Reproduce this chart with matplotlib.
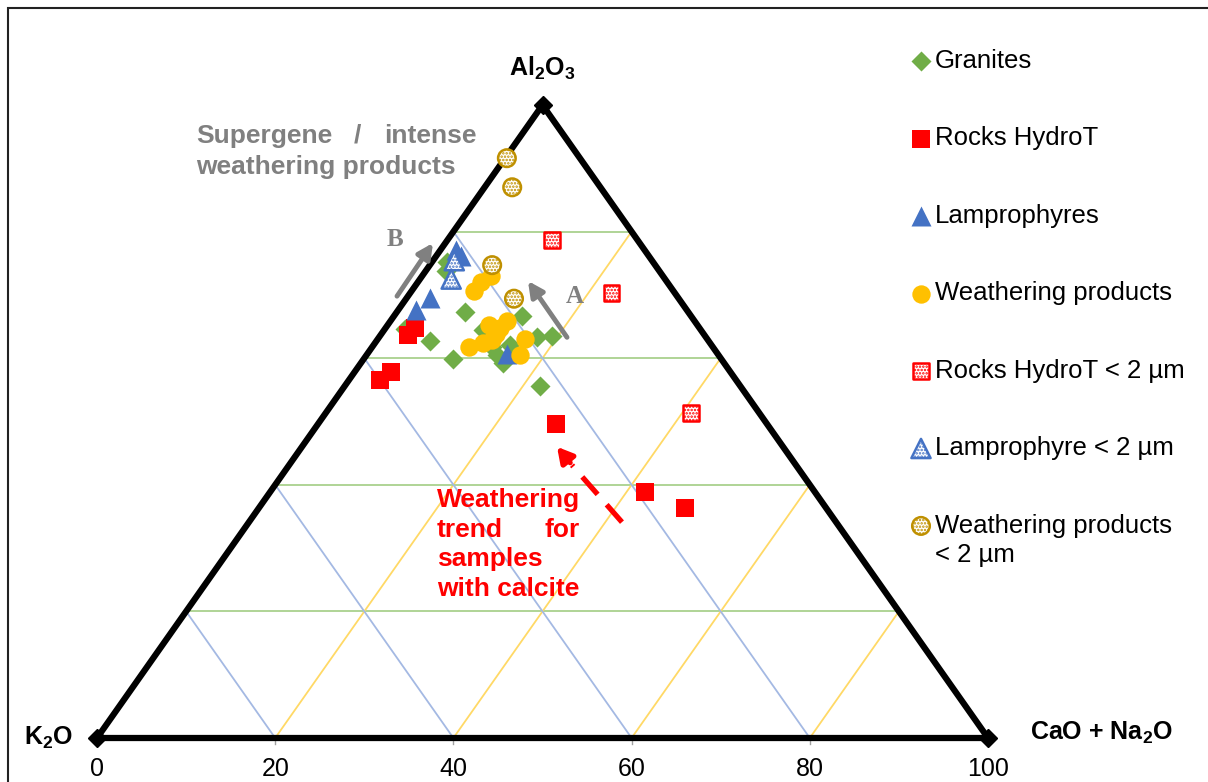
import matplotlib
matplotlib.use("Agg")
import matplotlib.pyplot as plt
from matplotlib.patches import Rectangle

plt.rcParams['font.family'] = ['Liberation Sans', 'DejaVu Sans']
plt.rcParams['mathtext.fontset'] = 'custom'
plt.rcParams['mathtext.rm'] = 'Liberation Sans'
plt.rcParams['mathtext.bf'] = 'Liberation Sans:bold'
plt.rcParams['mathtext.default'] = 'bf'
plt.rcParams['hatch.linewidth'] = 1.2

# compositions (%): Al2O3 and CaO+Na2O, K2O is the remainder
granites_al = [75.2, 73.8, 67.3, 64.6, 62.7, 59.9, 64.5, 61.8, 60.5, 59.2, 66.7, 63.3, 63.5, 55.6, 62.1, 61.0]
granites_ca = [1.7, 2.3, 7.6, 2.3, 6.0, 10.0, 11.1, 13.4, 14.6, 16.0, 14.3, 17.7, 19.3, 21.9, 15.3, 16.3]

hydrot_al = [64.8, 63.7, 57.8, 56.6, 49.6, 38.9, 36.3]
hydrot_ca = [3.3, 3.0, 4.1, 3.5, 26.7, 42.1, 47.8]

lamp_al = [77.1, 76.1, 69.5, 67.6, 60.7]
lamp_ca = [1.7, 2.8, 2.6, 2.0, 15.7]

wp_al = [70.6, 72.0, 73.0, 65.2, 65.9, 63.8, 64.8, 62.4, 61.8, 63.0, 60.5, 62.9]
wp_ca = [7.0, 7.1, 7.7, 11.4, 13.1, 12.9, 12.8, 12.1, 10.9, 16.5, 17.2, 12.9]

hydrot2_al = [78.7, 70.3, 51.3]
hydrot2_ca = [11.7, 22.6, 41.0]

lamp2_al = [75.4, 72.5]
lamp2_ca = [2.4, 3.5]

wp2_al = [91.6, 87.0, 74.7, 69.4]
wp2_ca = [0.2, 3.1, 7.0, 12.1]

ticks = [0, 20, 40, 60, 80, 100]
grid_vals = [20, 40, 60, 80]


def tern(al, ca):
    # ternary -> cartesian, K2O at (0,0), CaO+Na2O at (100,0), Al2O3 at (50,100)
    x = [c + a / 2 for a, c in zip(al, ca)]
    return x, list(al)


fig = plt.figure(figsize=(12.08, 7.82), dpi=100)
ax = fig.add_axes([97 / 1208, 44 / 782, 891 / 1208, 633 / 782])
ax.set_xlim(0, 100)
ax.set_ylim(0, 100)
ax.axis('off')

# grid lines
for v in grid_vals:
    ax.plot([v / 2, 100 - v / 2], [v, v], color='#a9d18e', lw=1.3, zorder=1)
    ax.plot([v, v / 2], [0, v], color='#a4b9e3', lw=1.3, zorder=1)
    ax.plot([v, 50 + v / 2], [0, 100 - v], color='#ffd966', lw=1.3, zorder=1)
    ax.plot([v, v], [0, -0.9], color='#a0a0a0', lw=1, clip_on=False)

# triangle
ax.plot([0, 100, 50, 0], [0, 0, 100, 0], color='black', lw=4.5,
        solid_joinstyle='miter', clip_on=False, zorder=2)
ax.plot([0, 100, 50], [0, 0, 100], 'D', color='black', ms=9, clip_on=False, zorder=2)

for t in ticks:
    ax.text(t, -4.9, str(t), ha='center', va='center', fontsize=18)

ax.text(-2.7, 0, 'K$_2$O', ha='right', va='center', fontsize=18, fontweight='bold')
ax.text(50, 105.8, 'Al$_2$O$_3$', ha='center', va='center', fontsize=18, fontweight='bold')
ax.text(104.7, 0.8, 'CaO + Na$_2$O', ha='left', va='center', fontsize=18, fontweight='bold')

# data
x, y = tern(granites_al, granites_ca)
h1 = ax.scatter(x, y, marker='D', s=104, color='#70ad47', linewidths=0, zorder=4, clip_on=False)
x, y = tern(hydrot_al, hydrot_ca)
h2 = ax.scatter(x, y, marker='s', s=150, color='#ff0000', linewidths=0, zorder=4)
x, y = tern(lamp_al, lamp_ca)
h3 = ax.scatter(x, y, marker='^', s=207, color='#4472c4', linewidths=0, zorder=4)
x, y = tern(wp_al, wp_ca)
h4 = ax.scatter(x, y, marker='o', s=175, color='#ffc000', linewidths=0, zorder=5)

with plt.rc_context({'hatch.color': '#ff4040'}):
    x, y = tern(hydrot2_al, hydrot2_ca)
    h5 = ax.scatter(x, y, marker='s', s=130, facecolor='white', edgecolor='#ff0000',
                    linewidths=1.8, hatch='.....', zorder=5)
with plt.rc_context({'hatch.color': '#6d8fd0'}):
    x, y = tern(lamp2_al, lamp2_ca)
    h6 = ax.scatter(x, y, marker='^', s=190, facecolor='white', edgecolor='#4472c4',
                    linewidths=1.8, hatch='.....', zorder=5)
with plt.rc_context({'hatch.color': '#c8a040'}):
    x, y = tern(wp2_al, wp2_ca)
    h7 = ax.scatter(x, y, marker='o', s=160, facecolor='white', edgecolor='#bf9000',
                    linewidths=1.8, hatch='.....', zorder=6)

# trend arrows
arrow_gray = dict(arrowstyle='-|>,head_length=0.9,head_width=0.45', lw=3.5,
                  color='#808080', shrinkA=0, shrinkB=0)
ax.annotate('', xy=(37.71, 78.2), xytext=(33.67, 69.8), arrowprops=arrow_gray, zorder=3)
ax.annotate('', xy=(48.37, 72.2), xytext=(52.75, 63.3), arrowprops=arrow_gray, zorder=3)
ax.text(33.4, 78.7, 'B', family=['Liberation Serif', 'DejaVu Serif'], fontweight='bold',
        fontsize=18, color='#808080', ha='center', va='center')
ax.text(53.6, 69.8, 'A', family=['Liberation Serif', 'DejaVu Serif'], fontweight='bold',
        fontsize=18, color='#808080', ha='center', va='center')

ax.plot([58.92, 53.31], [34.1, 43.1], color='#ff0000', lw=3.8, ls=(0, (4.4, 2.6)),
        solid_capstyle='butt', zorder=3)
ax.annotate('', xy=(51.63, 46.0), xytext=(53.1, 43.5),
            arrowprops=dict(arrowstyle='-|>,head_length=0.9,head_width=0.5', lw=3.8,
                            color='#ff0000', shrinkA=0, shrinkB=0), zorder=3)

# annotations
gray_kw = dict(fontsize=19, fontweight='bold', color='#808080', va='baseline')
ax.text(11.1, 94.0, 'Supergene', ha='left', **gray_kw)
ax.text(29.2, 94.0, '/', ha='center', **gray_kw)
ax.text(42.65, 94.0, 'intense', ha='right', **gray_kw)
ax.text(11.1, 89.1, 'weathering products', ha='left', **gray_kw)

red_kw = dict(fontsize=19, fontweight='bold', color='#ff0000', va='baseline')
ax.text(38.16, 36.5, 'Weathering', ha='left', **red_kw)
ax.text(38.16, 31.8, 'trend', ha='left', **red_kw)
ax.text(54.2, 31.8, 'for', ha='right', **red_kw)
ax.text(38.16, 27.1, 'samples', ha='left', **red_kw)
ax.text(38.16, 22.4, 'with calcite', ha='left', **red_kw)

fig.legend([h1, h2, h3, h4, h5, h6, h7],
           ['Granites', 'Rocks HydroT', 'Lamprophyres', 'Weathering products',
            'Rocks HydroT < 2 µm', 'Lamprophyre < 2 µm', 'Weathering products'],
           loc='upper left', bbox_to_anchor=(912 / 1208, 1 - 49 / 782), frameon=False,
           fontsize=18.5, handlelength=0.7, handletextpad=0.2, borderpad=0,
           borderaxespad=0, labelspacing=2.08, scatterpoints=1, markerscale=1.0)
fig.text(935 / 1208, 1 - 555 / 782, '< 2 µm', fontsize=18.5, ha='left', va='center')

fig.add_artist(Rectangle((8 / 1208, -0.5), 2, 0.5 + 1 - 8 / 782, transform=fig.transFigure,
                         fill=False, lw=1.5, edgecolor='#222222'))

fig.savefig('out.png', dpi=100)
